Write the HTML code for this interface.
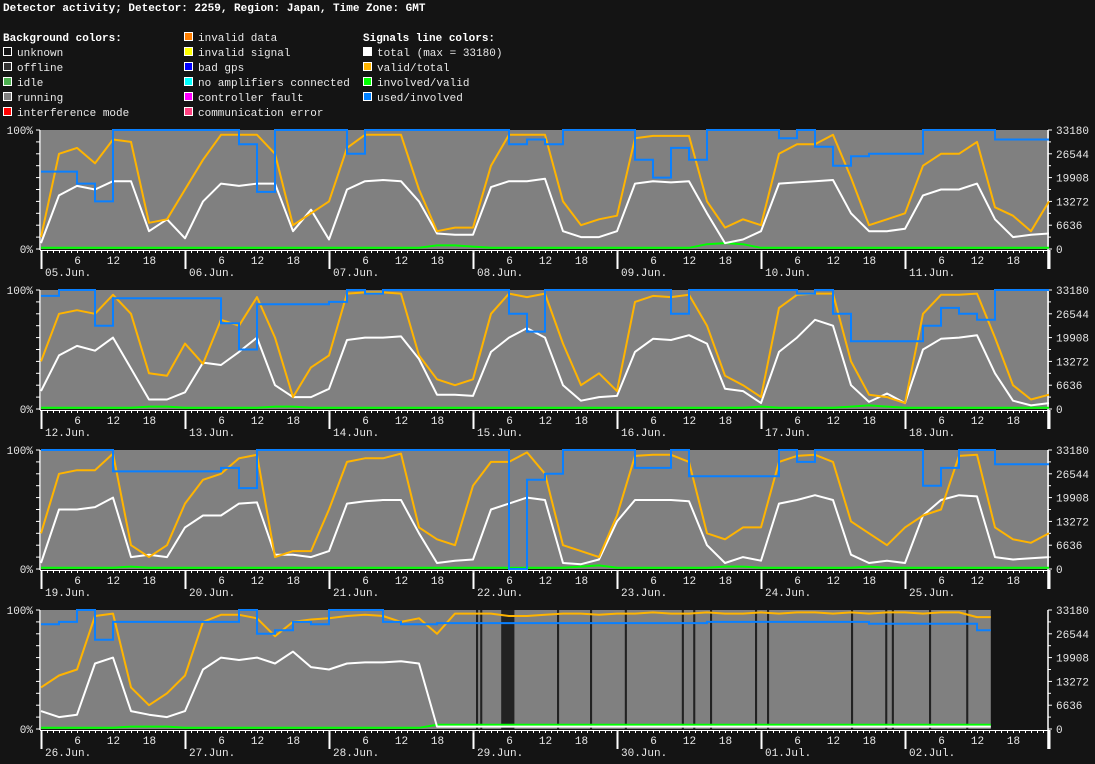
<!DOCTYPE html>
<html><head><meta charset="utf-8"><title>Detector activity</title>
<style>
html,body{margin:0;padding:0;background:#141414;}
svg{display:block;font-family:"Liberation Mono","DejaVu Sans Mono",monospace;}
.t{fill:#e8e8e8;font-size:11px;}
.b{font-weight:bold;fill:#fff;}
</style></head>
<body>
<svg id="chart" width="1095" height="764" viewBox="0 0 1095 764">
<rect x="0" y="0" width="1095" height="764" fill="#141414"/>
<text x="3" y="11" class="t b" font-size="11.3">Detector activity; Detector: 2259, Region: Japan, Time Zone: GMT</text>
<g>
<text x="3" y="41" class="t b">Background colors:</text>
<rect x="3.5" y="47.5" width="8" height="8" fill="#141414" stroke="#fff"/><text x="17" y="56" class="t">unknown</text>
<rect x="3.5" y="62.5" width="8" height="8" fill="#333" stroke="#fff"/><text x="17" y="71" class="t">offline</text>
<rect x="3.5" y="77.5" width="8" height="8" fill="#4caf50" stroke="#fff"/><text x="17" y="86" class="t">idle</text>
<rect x="3.5" y="92.5" width="8" height="8" fill="#808080" stroke="#fff"/><text x="17" y="101" class="t">running</text>
<rect x="3.5" y="107.5" width="8" height="8" fill="#ff0000" stroke="#fff"/><text x="17" y="116" class="t">interference mode</text>
<rect x="184.5" y="32.5" width="8" height="8" fill="#ff7f00" stroke="#fff"/><text x="198" y="41" class="t">invalid data</text>
<rect x="184.5" y="47.5" width="8" height="8" fill="#ffff00" stroke="#fff"/><text x="198" y="56" class="t">invalid signal</text>
<rect x="184.5" y="62.5" width="8" height="8" fill="#0000ff" stroke="#fff"/><text x="198" y="71" class="t">bad gps</text>
<rect x="184.5" y="77.5" width="8" height="8" fill="#00ffff" stroke="#fff"/><text x="198" y="86" class="t">no amplifiers connected</text>
<rect x="184.5" y="92.5" width="8" height="8" fill="#ff00ff" stroke="#fff"/><text x="198" y="101" class="t">controller fault</text>
<rect x="184.5" y="107.5" width="8" height="8" fill="#ff4080" stroke="#fff"/><text x="198" y="116" class="t">communication error</text>
<text x="363" y="41" class="t b">Signals line colors:</text>
<rect x="363.5" y="47.5" width="8" height="8" fill="#fff" stroke="#fff"/><text x="377" y="56" class="t">total (max = 33180)</text>
<rect x="363.5" y="62.5" width="8" height="8" fill="#ffb400" stroke="#fff"/><text x="377" y="71" class="t">valid/total</text>
<rect x="363.5" y="77.5" width="8" height="8" fill="#00ff00" stroke="#fff"/><text x="377" y="86" class="t">involved/valid</text>
<rect x="363.5" y="92.5" width="8" height="8" fill="#0080ff" stroke="#fff"/><text x="377" y="101" class="t">used/involved</text>
</g>
</svg>
<script>
// ---- data (percent, sampled every 3 hours from hour 0) ----
const sampleHours = 3;
const rightTickLabels = ["0","6636","13272","19908","26544","33180"];
const hourTickLabels = ["6","12","18"];
const p1Days = ["05.Jun.","06.Jun.","07.Jun.","08.Jun.","09.Jun.","10.Jun.","11.Jun."];
const p2Days = ["12.Jun.","13.Jun.","14.Jun.","15.Jun.","16.Jun.","17.Jun.","18.Jun."];
const p3Days = ["19.Jun.","20.Jun.","21.Jun.","22.Jun.","23.Jun.","24.Jun.","25.Jun."];
const p4Days = ["26.Jun.","27.Jun.","28.Jun.","29.Jun.","30.Jun.","01.Jul.","02.Jul."];

const p1Total = [5,45,53,50,57,57,15,25,9,40,55,53,55,55,15,33,8,50,57,58,57,40,13,12,12,52,57,57,59,15,10,10,15,55,57,56,57,30,5,8,15,55,56,57,58,30,15,15,17,45,50,50,55,25,10,12,13];
const p1Valid = [10,80,85,72,92,90,22,25,50,75,96,96,96,80,20,30,40,85,96,96,96,50,15,18,18,70,96,96,96,40,20,25,28,93,95,95,95,40,18,25,20,80,88,88,96,60,20,25,30,70,80,80,90,35,28,15,40];
const p1Involved = [1,1,1,1,1,1,1,1,1,1,1,1,1,1,1,1,1,1,1,1,1,1,3,3,2,1,1,1,1,1,1,1,1,1,1,1,1,4,5,4,1,1,1,1,1,1,1,1,1,1,1,1,1,1,1,1,1];
const p1Used = [65,65,55,40,100,100,100,100,100,100,100,88,48,100,100,100,100,80,100,100,100,100,100,100,100,100,88,92,88,100,100,100,100,75,60,85,75,100,100,100,100,93,100,86,70,78,80,80,80,100,100,100,100,92,92,92,92];

const p2Total = [15,45,53,49,60,34,8,8,14,39,37,48,60,20,10,10,17,58,60,60,61,42,12,12,11,48,60,68,60,20,7,10,11,48,59,58,62,55,17,15,5,48,60,75,70,20,6,13,5,50,59,60,62,30,7,3,5];
const p2Valid = [40,80,83,80,96,80,30,28,55,38,75,70,94,60,10,35,45,97,98,98,97,45,25,20,25,80,97,94,97,55,20,30,15,90,95,94,96,70,28,20,10,85,96,97,97,40,12,10,5,80,96,96,97,60,20,8,12];
const p2Involved = [1,1,1,1,1,1,2,2,1,1,1,1,1,2,2,1,1,1,1,1,1,1,1,1,1,1,1,1,1,1,1,1,1,1,1,1,1,1,1,1,2,1,1,1,1,2,3,2,1,1,1,1,1,1,1,1,1];
const p2Used = [95,100,100,70,93,93,93,93,93,93,72,50,88,88,88,88,90,100,97,100,100,100,100,100,100,100,80,65,100,100,100,100,100,100,100,80,100,100,100,100,100,100,97,100,80,57,57,57,57,70,85,80,75,100,100,100,100];

const p3Total = [5,50,50,52,60,10,12,10,35,45,45,55,56,12,12,10,15,55,57,58,58,30,5,7,8,50,55,60,58,5,4,8,40,58,58,58,57,20,5,10,7,55,58,62,58,12,5,7,5,45,58,62,61,10,8,9,10];
const p3Valid = [30,80,83,83,97,20,10,20,55,75,80,93,96,10,15,15,50,90,93,93,97,35,25,20,70,90,90,98,80,20,15,10,45,95,96,96,90,30,25,35,35,90,95,96,90,40,30,20,35,45,50,95,96,35,25,22,30];
const p3Involved = [1,1,1,1,1,2,1,1,1,1,1,1,1,1,1,1,1,1,1,1,1,1,1,1,1,1,1,1,1,1,2,3,1,1,1,1,1,1,2,2,1,1,1,1,1,1,2,1,1,1,1,1,1,1,1,1,1];
const p3Used = [100,100,100,100,82,82,82,82,82,82,85,68,100,100,100,100,100,100,100,100,100,100,100,100,100,100,0,75,80,100,100,100,100,85,85,100,78,78,78,78,78,100,90,100,100,100,100,100,100,70,85,100,100,88,88,88,88];

const p4EndHour = 158.3;
const p4Total = [15,10,12,55,60,15,12,10,15,50,60,58,60,55,65,52,50,55,56,56,57,55,2,2,2,2,2,2,2,2,2,2,2,2,2,2,2,2,2,2,2,2,2,2,2,2,2,2,2,2,2,2,2];
const p4Valid = [35,45,50,95,97,35,20,30,45,90,96,96,93,78,90,92,93,95,96,95,90,93,80,97,97,97,95,95,96,97,97,96,97,97,98,97,97,98,97,97,98,97,98,98,97,98,97,98,98,97,98,98,94];
const p4Involved = [1,1,1,1,1,2,2,2,1,1,1,1,1,1,1,1,1,1,1,1,1,1,3.5,3.5,3.5,3.5,3.5,3.5,3.5,3.5,3.5,3.5,3.5,3.5,3.5,3.5,3.5,3.5,3.5,3.5,3.5,3.5,3.5,3.5,3.5,3.5,3.5,3.5,3.5,3.5,3.5,3.5,3.5];
const p4Used = [88,90,100,75,90,90,90,90,90,90,90,100,80,83,90,88,100,100,100,90,88,88,89,89,89,89,89,89,89,89,89,89,89,89,89,89,89,90,90,90,90,90,90,90,90,90,88.5,88.5,88.5,88.5,88.5,88.5,83];
const p4OfflineStart = [72.5,73.2,76.7,86,91.5,97.3,106.8,108.7,111.5,119,121,135,140.7,141.8,148,154.2];
const p4OfflineLen = [0.35,0.35,2.2,0.35,0.35,0.35,0.35,0.35,0.35,0.35,0.35,0.35,0.35,0.35,0.35,0.35];

// ---- drawing ----
const NS = "http://www.w3.org/2000/svg";
const svg = document.getElementById("chart");
const X0 = 41, PXH = 6, H = 119, X1 = 1048, HOURS = 168;
const panelTops = [130, 290, 450, 610];
function mk(tag, attrs, parent){ const e=document.createElementNS(NS,tag); for(const k in attrs) e.setAttribute(k,attrs[k]); (parent||svg).appendChild(e); return e; }
function xScale(h){ return X0 + h*PXH; }
function yScale(top, pct){ return top + H - pct/100*H; }

const panels = [
 {days:p1Days,total:p1Total,valid:p1Valid,inv:p1Involved,used:p1Used,end:HOURS},
 {days:p2Days,total:p2Total,valid:p2Valid,inv:p2Involved,used:p2Used,end:HOURS},
 {days:p3Days,total:p3Total,valid:p3Valid,inv:p3Involved,used:p3Used,end:HOURS},
 {days:p4Days,total:p4Total,valid:p4Valid,inv:p4Involved,used:p4Used,end:p4EndHour}
];

function linePath(arr, top, end){
  let d="";
  arr.forEach((v,i)=>{ const h=Math.min(i*sampleHours,end); d+=(i?"L":"M")+xScale(h).toFixed(1)+","+yScale(top,v).toFixed(1); });
  const lastH=(arr.length-1)*sampleHours;
  if(lastH<end) d+="L"+xScale(end).toFixed(1)+","+yScale(top,arr[arr.length-1]).toFixed(1);
  return d;
}
function stepPath(arr, top, end){
  let d="";
  arr.forEach((v,i)=>{
    const h=i*sampleHours; const hn=Math.min((i+1)*sampleHours,end);
    const y=yScale(top,v).toFixed(1);
    d+=(i?"L":"M")+xScale(h).toFixed(1)+","+y+"L"+xScale(hn).toFixed(1)+","+y;
  });
  return d;
}

panels.forEach((p,pi)=>{
  const top=panelTops[pi], bot=top+H;
  const g=mk("g",{});
  
  
  const bg=mk("rect",{x:X0,y:top,width:xScale(p.end)-X0,height:H,fill:"#808080"},g);
  
  
  if(pi===3){
    p4OfflineStart.forEach((s,i)=>{
      const r=mk("rect",{x:xScale(s),y:top,width:Math.max(2,p4OfflineLen[i]*PXH),height:H,fill:"#222"},g);
      
      
    });
  }
  // left axis
  const la=mk("line",{x1:40,y1:top,x2:40,y2:bot+1,stroke:"#fff","stroke-width":1.5},g);
  
  
  for(let k=0;k<=10;k++){ const y=yScale(top,k*10); mk("line",{x1:36,y1:y,x2:40,y2:y,stroke:"#fff"},g); }
  const l100=mk("text",{x:33,y:top+4,"text-anchor":"end",class:"t"},g); l100.textContent="100%";
  
  
  const l0=mk("text",{x:33,y:bot+4,"text-anchor":"end",class:"t"},g); l0.textContent="0%";
  
  
  // right axis
  const ra=mk("line",{x1:X1,y1:top,x2:X1,y2:bot+20,stroke:"#fff","stroke-width":1.5},g);
  
  
  for(let k=0;k<=10;k++){ const y=yScale(top,k*10); mk("line",{x1:X1,y1:y,x2:X1+(k%2?3:4),y2:y,stroke:"#fff"},g); }
  rightTickLabels.forEach((lab,k)=>{
    const t=mk("text",{x:1056,y:yScale(top,k*20)+4,class:"t"},g); t.textContent=lab;
    
    
  });
  // bottom axis
  const ba=mk("line",{x1:40,y1:bot+1.5,x2:X1,y2:bot+1.5,stroke:"#fff","stroke-width":1},g);
  
  
  for(let h=0;h<=HOURS;h++){
    const x=xScale(h)+0.5;
    if(h%24===0){ mk("line",{x1:x,y1:bot+1,x2:x,y2:bot+20,stroke:"#fff","stroke-width":2},g); }
    else mk("line",{x1:x,y1:bot+1,x2:x,y2:bot+4,stroke:"#fff"},g);
  }
  p.days.forEach((dl,d)=>{
    const t=mk("text",{x:xScale(d*24)+4,y:bot+27,class:"t"},g); t.textContent=dl;
    
    
    hourTickLabels.forEach((hl,j)=>{
      const tt=mk("text",{x:xScale(d*24+(j+1)*6)+0.5,y:bot+15,"text-anchor":"middle",class:"t","font-size":"9"},g); tt.textContent=hl;
      
      
    });
  });
  // series
  const gr=mk("path",{d:linePath(p.inv,top,p.end),fill:"none",stroke:"#00ff00","stroke-width":2},g);
  
  
  const wh=mk("path",{d:linePath(p.total,top,p.end),fill:"none",stroke:"#ffffff","stroke-width":2,"stroke-linejoin":"round"},g);
  
  
  const or=mk("path",{d:linePath(p.valid,top,p.end),fill:"none",stroke:"#ffb400","stroke-width":2,"stroke-linejoin":"round"},g);
  
  
  const bl=mk("path",{d:stepPath(p.used,top,p.end),fill:"none",stroke:"#0a80ff","stroke-width":2},g);
  
  
});
</script>
</body></html>
